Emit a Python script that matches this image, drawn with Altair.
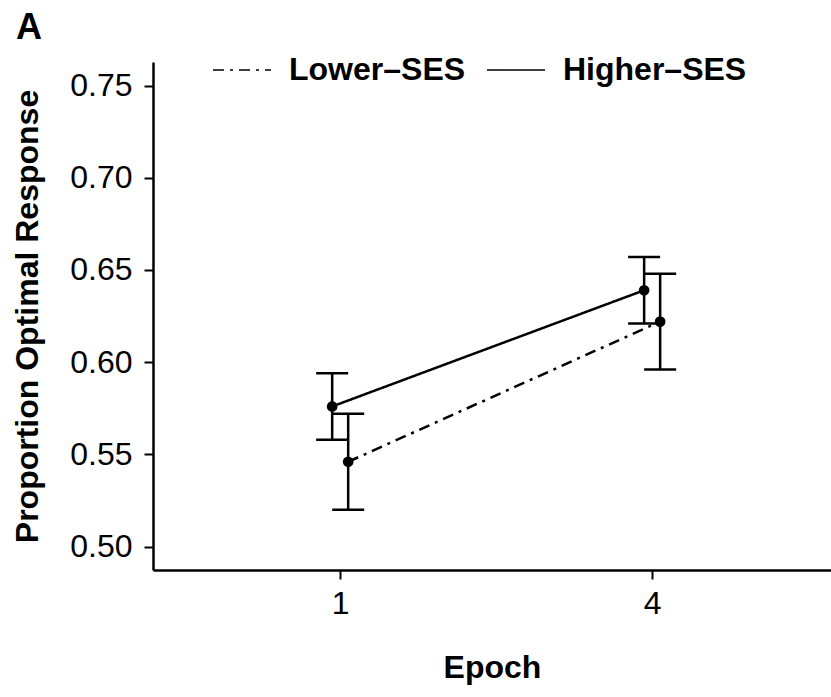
import altair as alt
import pandas as pd

# Data
groups = ["Lower–SES", "Lower–SES", "Higher–SES", "Higher–SES"]
epochs = [1, 4, 1, 4]
means = [0.546, 0.622, 0.576, 0.639]
lows = [0.520, 0.596, 0.558, 0.621]
highs = [0.572, 0.648, 0.594, 0.657]

x_ticks = [1, 4]
y_ticks = [0.50, 0.55, 0.60, 0.65, 0.70, 0.75]
group_order = ["Lower–SES", "Higher–SES"]

df = pd.DataFrame({"group": groups, "epoch": epochs, "mean": means, "lo": lows, "hi": highs})

FONT = "Liberation Sans"

base = alt.Chart(df).transform_calculate(
    xd="datum.epoch + (datum.group == 'Lower–SES' ? 0.077 : -0.077)"
)

xenc = alt.X(
    "xd:Q",
    scale=alt.Scale(domain=[-0.8, 5.72], nice=False, zero=False),
    axis=alt.Axis(values=x_ticks, format="d", title="Epoch", labelPadding=9, titlePadding=33),
)


def yenc(field):
    return alt.Y(
        field,
        scale=alt.Scale(domain=[0.4873, 0.7628], nice=False, zero=False),
        axis=alt.Axis(values=y_ticks, format=".2f", title="Proportion Optimal Response",
                      labelPadding=12, titlePadding=25),
    )


lines = base.mark_line(color="black", strokeWidth=2.5).encode(
    x=xenc,
    y=yenc("mean:Q"),
    strokeDash=alt.StrokeDash(
        "group:N",
        scale=alt.Scale(domain=group_order, range=[[11, 6, 3, 6], [1, 0]]),
        legend=alt.Legend(
            title=None,
            orient="none",
            legendX=59,
            legendY=-22,
            direction="horizontal",
            symbolType="stroke",
            symbolSize=3364,
            symbolStrokeWidth=1.5,
            symbolStrokeColor="black",
            labelFont=FONT,
            labelFontSize=32,
            labelFontWeight="bold",
            labelColor="black",
            labelOffset=17,
            labelLimit=0,
            columnPadding=18,
            padding=0,
        ),
    ),
)

rules = base.mark_rule(color="black", strokeWidth=2.5).encode(
    x=xenc, y=yenc("lo:Q"), y2="hi:Q"
)

caps_lo = base.mark_tick(orient="horizontal", size=32, thickness=2.5, color="black", opacity=1).encode(
    x=xenc, y=yenc("lo:Q")
)
caps_hi = base.mark_tick(orient="horizontal", size=32, thickness=2.5, color="black", opacity=1).encode(
    x=xenc, y=yenc("hi:Q")
)

points = base.mark_circle(size=115, color="black", opacity=1).encode(
    x=xenc, y=yenc("mean:Q")
)

panel = alt.Chart(pd.DataFrame({"t": ["A"]})).mark_text(
    font=FONT, fontSize=36, fontWeight="bold", color="black", align="left", baseline="alphabetic"
).encode(text="t:N", x=alt.value(-137), y=alt.value(-23))

chart = alt.layer(rules, caps_lo, caps_hi, lines, points, panel).properties(
    width=678,
    height=508,
    autosize=alt.AutoSizeParams(type="none"),
    padding={"left": 153, "top": 62, "right": 0, "bottom": 127},
).configure_view(stroke=None).configure_axis(
    grid=False,
    domainColor="black",
    domainWidth=2.5,
    tickColor="black",
    tickWidth=2,
    tickSize=9,
    labelFont=FONT,
    labelFontSize=32,
    labelColor="black",
    titleFont=FONT,
    titleFontSize=32,
    titleFontWeight="bold",
    titleColor="black",
)

chart.save("out.html", embed_options={"renderer": "svg", "actions": False})
